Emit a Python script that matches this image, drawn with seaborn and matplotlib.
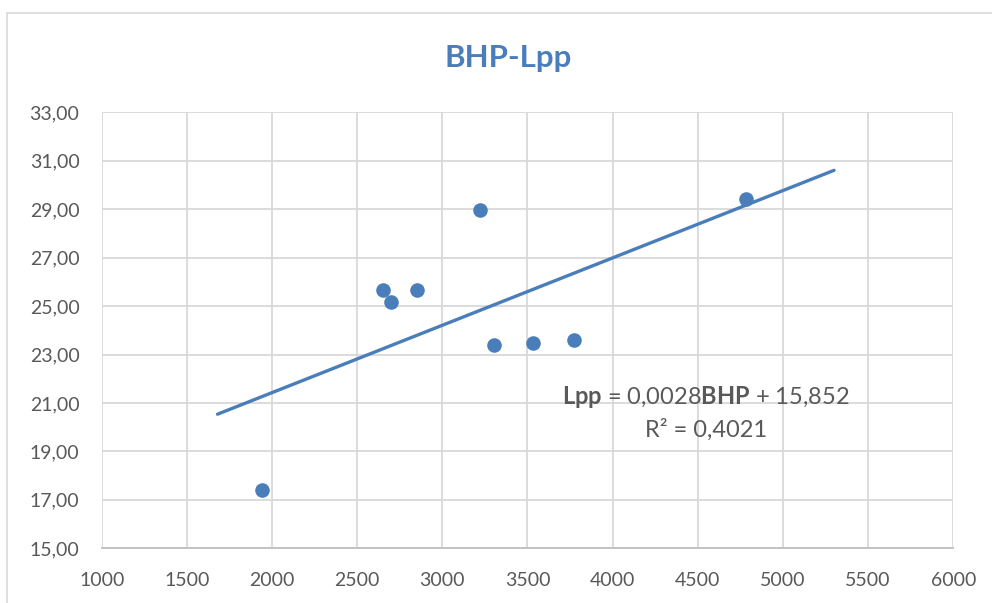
import numpy as np
import pandas as pd
import seaborn as sns
import matplotlib
matplotlib.use("Agg")
import matplotlib.pyplot as plt
from matplotlib.patches import Rectangle
from matplotlib.ticker import FuncFormatter

# Data
bhp = [1943, 2653, 2700, 2851, 3221, 3302, 3531, 3773, 4782]
lpp = [17.41, 25.65, 25.18, 25.65, 28.97, 23.41, 23.46, 23.59, 29.43]
x_ticks = [1000, 1500, 2000, 2500, 3000, 3500, 4000, 4500, 5000, 5500, 6000]
y_ticks = [15, 17, 19, 21, 23, 25, 27, 29, 31, 33]
trend_range = [1680, 5300]
title = "BHP-Lpp"
eq_text = r"$\mathbf{Lpp}$ = 0,0028$\mathbf{BHP}$ + 15,852"
r2_text = "R² = 0,4021"

sns.set_theme(style="white")
plt.rcParams['font.family'] = ['Lato', 'DejaVu Sans']
plt.rcParams['mathtext.fontset'] = 'custom'
plt.rcParams['mathtext.rm'] = 'Lato'
plt.rcParams['mathtext.bf'] = 'Lato:bold'

blue = "#4a7ebb"
grid = "#d9d9d9"
txt = "#595959"

fig = plt.figure(figsize=(9.92, 6.03), dpi=100)
fig.patch.set_facecolor("white")
fig.patches.append(Rectangle((7/992, -0.05), 1.2, 1 - 13/603 + 0.05, transform=fig.transFigure,
                             fill=False, edgecolor="#d9d9d9", linewidth=1.2))
ax = fig.add_axes([0.1025, 0.0907, 0.961 - 0.1025, 0.8138 - 0.0907])

df = pd.DataFrame({"BHP": bhp, "Lpp": lpp})
coef = np.polyfit(df["BHP"], df["Lpp"], 1)
tx = np.array(trend_range, dtype=float)
ty = np.polyval(coef, tx)
sns.lineplot(x=tx, y=ty, ax=ax, color=blue, linewidth=2.4, zorder=3)
sns.scatterplot(data=df, x="BHP", y="Lpp", ax=ax, color=blue, s=110, edgecolor=blue,
                linewidth=0, zorder=4)

ax.set_xlim(1000, 6000)
ax.set_ylim(15, 33)
ax.set_xticks(x_ticks)
ax.set_yticks(y_ticks)
ax.yaxis.set_major_formatter(FuncFormatter(lambda v, p: f"{v:.2f}".replace(".", ",")))
ax.grid(True, color=grid, linewidth=1.3)
ax.set_axisbelow(True)
for s in ["top", "right", "left"]:
    ax.spines[s].set_visible(False)
ax.spines["bottom"].set_color("#bfbfbf")
ax.spines["bottom"].set_linewidth(1.3)
ax.tick_params(axis="both", length=0, labelsize=14, colors=txt)
ax.tick_params(axis="x", pad=17)
ax.tick_params(axis="y", pad=16)
ax.set_xlabel("")
ax.set_ylabel("")

fig.text(508/992, 1 - 58/603, title, ha="center", va="center", fontsize=22.5,
         fontweight="bold", color=blue)
fig.text(706/992, 1 - 397/603, eq_text, ha="center", va="center", fontsize=17, color=txt)
fig.text(706/992, 1 - 430/603, r2_text, ha="center", va="center", fontsize=17, color=txt)

fig.savefig("out.png", dpi=100)
